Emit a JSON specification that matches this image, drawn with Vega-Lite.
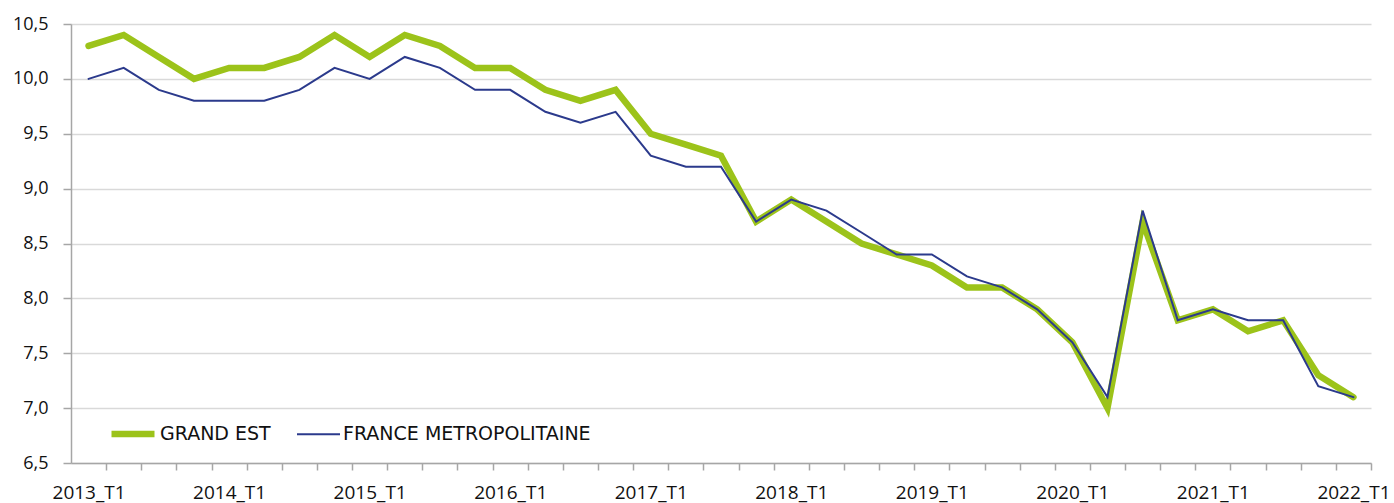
{
  "$schema": "https://vega.github.io/schema/vega-lite/v6.json",
  "autosize": "none",
  "width": 1300,
  "height": 439,
  "padding": {"left": 71, "top": 24, "right": 23, "bottom": 40},
  "background": "white",
  "config": {
    "view": {"stroke": null},
    "font": "Open Sans"
  },
  "data": {
    "values": [
      {"q": "2013_T1", "serie": "GRAND EST", "v": 10.3}, {"q": "2013_T1", "serie": "FRANCE METROPOLITAINE", "v": 10.0},
      {"q": "2013_T2", "serie": "GRAND EST", "v": 10.4}, {"q": "2013_T2", "serie": "FRANCE METROPOLITAINE", "v": 10.1},
      {"q": "2013_T3", "serie": "GRAND EST", "v": 10.2}, {"q": "2013_T3", "serie": "FRANCE METROPOLITAINE", "v": 9.9},
      {"q": "2013_T4", "serie": "GRAND EST", "v": 10.0}, {"q": "2013_T4", "serie": "FRANCE METROPOLITAINE", "v": 9.8},
      {"q": "2014_T1", "serie": "GRAND EST", "v": 10.1}, {"q": "2014_T1", "serie": "FRANCE METROPOLITAINE", "v": 9.8},
      {"q": "2014_T2", "serie": "GRAND EST", "v": 10.1}, {"q": "2014_T2", "serie": "FRANCE METROPOLITAINE", "v": 9.8},
      {"q": "2014_T3", "serie": "GRAND EST", "v": 10.2}, {"q": "2014_T3", "serie": "FRANCE METROPOLITAINE", "v": 9.9},
      {"q": "2014_T4", "serie": "GRAND EST", "v": 10.4}, {"q": "2014_T4", "serie": "FRANCE METROPOLITAINE", "v": 10.1},
      {"q": "2015_T1", "serie": "GRAND EST", "v": 10.2}, {"q": "2015_T1", "serie": "FRANCE METROPOLITAINE", "v": 10.0},
      {"q": "2015_T2", "serie": "GRAND EST", "v": 10.4}, {"q": "2015_T2", "serie": "FRANCE METROPOLITAINE", "v": 10.2},
      {"q": "2015_T3", "serie": "GRAND EST", "v": 10.3}, {"q": "2015_T3", "serie": "FRANCE METROPOLITAINE", "v": 10.1},
      {"q": "2015_T4", "serie": "GRAND EST", "v": 10.1}, {"q": "2015_T4", "serie": "FRANCE METROPOLITAINE", "v": 9.9},
      {"q": "2016_T1", "serie": "GRAND EST", "v": 10.1}, {"q": "2016_T1", "serie": "FRANCE METROPOLITAINE", "v": 9.9},
      {"q": "2016_T2", "serie": "GRAND EST", "v": 9.9}, {"q": "2016_T2", "serie": "FRANCE METROPOLITAINE", "v": 9.7},
      {"q": "2016_T3", "serie": "GRAND EST", "v": 9.8}, {"q": "2016_T3", "serie": "FRANCE METROPOLITAINE", "v": 9.6},
      {"q": "2016_T4", "serie": "GRAND EST", "v": 9.9}, {"q": "2016_T4", "serie": "FRANCE METROPOLITAINE", "v": 9.7},
      {"q": "2017_T1", "serie": "GRAND EST", "v": 9.5}, {"q": "2017_T1", "serie": "FRANCE METROPOLITAINE", "v": 9.3},
      {"q": "2017_T2", "serie": "GRAND EST", "v": 9.4}, {"q": "2017_T2", "serie": "FRANCE METROPOLITAINE", "v": 9.2},
      {"q": "2017_T3", "serie": "GRAND EST", "v": 9.3}, {"q": "2017_T3", "serie": "FRANCE METROPOLITAINE", "v": 9.2},
      {"q": "2017_T4", "serie": "GRAND EST", "v": 8.7}, {"q": "2017_T4", "serie": "FRANCE METROPOLITAINE", "v": 8.7},
      {"q": "2018_T1", "serie": "GRAND EST", "v": 8.9}, {"q": "2018_T1", "serie": "FRANCE METROPOLITAINE", "v": 8.9},
      {"q": "2018_T2", "serie": "GRAND EST", "v": 8.7}, {"q": "2018_T2", "serie": "FRANCE METROPOLITAINE", "v": 8.8},
      {"q": "2018_T3", "serie": "GRAND EST", "v": 8.5}, {"q": "2018_T3", "serie": "FRANCE METROPOLITAINE", "v": 8.6},
      {"q": "2018_T4", "serie": "GRAND EST", "v": 8.4}, {"q": "2018_T4", "serie": "FRANCE METROPOLITAINE", "v": 8.4},
      {"q": "2019_T1", "serie": "GRAND EST", "v": 8.3}, {"q": "2019_T1", "serie": "FRANCE METROPOLITAINE", "v": 8.4},
      {"q": "2019_T2", "serie": "GRAND EST", "v": 8.1}, {"q": "2019_T2", "serie": "FRANCE METROPOLITAINE", "v": 8.2},
      {"q": "2019_T3", "serie": "GRAND EST", "v": 8.1}, {"q": "2019_T3", "serie": "FRANCE METROPOLITAINE", "v": 8.1},
      {"q": "2019_T4", "serie": "GRAND EST", "v": 7.9}, {"q": "2019_T4", "serie": "FRANCE METROPOLITAINE", "v": 7.9},
      {"q": "2020_T1", "serie": "GRAND EST", "v": 7.6}, {"q": "2020_T1", "serie": "FRANCE METROPOLITAINE", "v": 7.6},
      {"q": "2020_T2", "serie": "GRAND EST", "v": 7.0}, {"q": "2020_T2", "serie": "FRANCE METROPOLITAINE", "v": 7.1},
      {"q": "2020_T3", "serie": "GRAND EST", "v": 8.7}, {"q": "2020_T3", "serie": "FRANCE METROPOLITAINE", "v": 8.8},
      {"q": "2020_T4", "serie": "GRAND EST", "v": 7.8}, {"q": "2020_T4", "serie": "FRANCE METROPOLITAINE", "v": 7.8},
      {"q": "2021_T1", "serie": "GRAND EST", "v": 7.9}, {"q": "2021_T1", "serie": "FRANCE METROPOLITAINE", "v": 7.9},
      {"q": "2021_T2", "serie": "GRAND EST", "v": 7.7}, {"q": "2021_T2", "serie": "FRANCE METROPOLITAINE", "v": 7.8},
      {"q": "2021_T3", "serie": "GRAND EST", "v": 7.8}, {"q": "2021_T3", "serie": "FRANCE METROPOLITAINE", "v": 7.8},
      {"q": "2021_T4", "serie": "GRAND EST", "v": 7.3}, {"q": "2021_T4", "serie": "FRANCE METROPOLITAINE", "v": 7.2},
      {"q": "2022_T1", "serie": "GRAND EST", "v": 7.1}, {"q": "2022_T1", "serie": "FRANCE METROPOLITAINE", "v": 7.1}
    ]
  },
  "mark": {"type": "line", "strokeCap": "round"},
  "encoding": {
    "x": {
      "field": "q",
      "type": "ordinal",
      "scale": {"type": "band", "paddingInner": 0, "paddingOuter": 0},
      "axis": {
        "title": null,
        "labelAngle": 0,
        "labelOverlap": false,
        "labelExpr": "indexof(datum.label + '', '_T1') >= 0 ? datum.label : ''",
        "labelFontSize": 19,
        "labelColor": "#111111",
        "labelPadding": 13,
        "tickOffset": 17.57,
        "labelOffset": -17.57,
        "domainColor": "#a6a6a6",
        "domainWidth": 1.5,
        "tickColor": "#a6a6a6",
        "tickWidth": 1.5,
        "tickSize": 7,
        "grid": false
      }
    },
    "y": {
      "field": "v",
      "type": "quantitative",
      "scale": {"domain": [6.5, 10.5], "nice": false, "zero": false},
      "axis": {
        "title": null,
        "values": [6.5, 7, 7.5, 8, 8.5, 9, 9.5, 10, 10.5],
        "labelExpr": "replace(format(datum.value, '.1f'), '.', ',')",
        "labelFontSize": 18,
        "labelColor": "#111111",
        "labelPadding": 15,
        "domainColor": "#a6a6a6",
        "domainWidth": 1.5,
        "tickColor": "#a6a6a6",
        "tickWidth": 1.5,
        "tickSize": 8,
        "grid": true,
        "gridColor": "#d9d9d9",
        "gridWidth": 1.5
      }
    },
    "color": {
      "field": "serie",
      "type": "nominal",
      "scale": {
        "domain": ["GRAND EST", "FRANCE METROPOLITAINE"],
        "range": ["#9cc31a", "#2b3a8c"]
      },
      "legend": {
        "title": null,
        "orient": "none",
        "legendX": 37,
        "legendY": 385,
        "direction": "horizontal",
        "symbolType": "stroke",
        "symbolSize": 1849,
        "labelFont": "DejaVu Sans",
        "labelFontSize": 19,
        "labelLimit": 0,
        "labelColor": "#111111",
        "labelOffset": 2,
        "columnPadding": 22
      }
    },
    "strokeWidth": {
      "field": "serie",
      "type": "ordinal",
      "scale": {
        "domain": ["GRAND EST", "FRANCE METROPOLITAINE"],
        "range": [6.5, 2]
      }
    }
  }
}
